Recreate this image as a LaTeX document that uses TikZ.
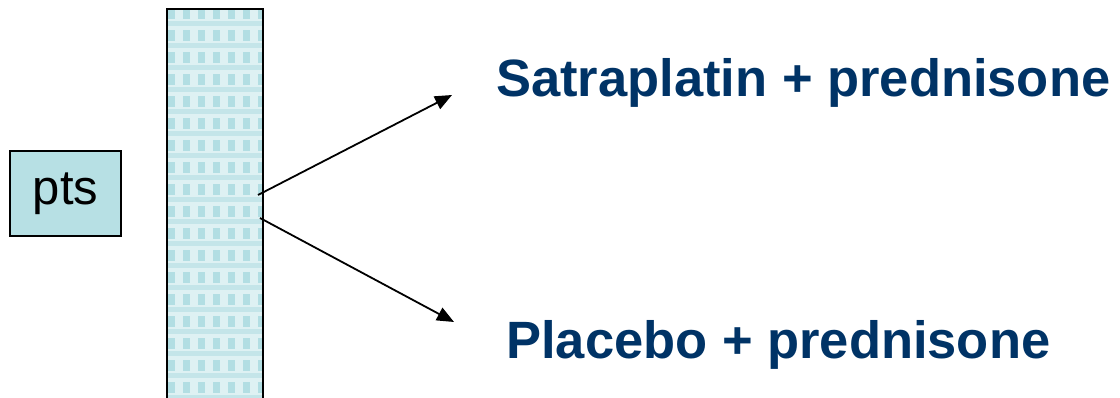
\documentclass[tikz,border=0pt]{standalone}
\usepackage{fontspec}
\setmainfont{Liberation Sans}
\usetikzlibrary{arrows.meta}
\definecolor{txtblue}{RGB}{0,51,102}
\definecolor{boxblue}{RGB}{183,224,228}
\definecolor{barlight}{RGB}{222,241,243}
\definecolor{bardark}{RGB}{178,222,227}
\tikzset{
  arm/.style={line width=1.8pt,-{Triangle[length=17pt,width=14pt]}},
  armlabel/.style={anchor=base west,text=txtblue,font=\bfseries\fontsize{52.5}{60}\selectfont,inner sep=0pt},
}
\begin{document}
\begin{tikzpicture}[x=1pt,y=1pt]
\useasboundingbox (0,0) rectangle (1120,398);
% bar pattern
\begin{scope}
  \clip (166,-10) rectangle (262,390);
  \fill[barlight] (166,-10) rectangle (262,390);
  \foreach \i in {0,...,6} {
    \foreach \j in {0,...,19} {
      \fill[bardark] (168+\i*15,390-\j*22) rectangle ++(7,-11);
      \fill[bardark!60!barlight] (166+\i*15,377-\j*22) rectangle ++(15,-5);
    }
  }
\end{scope}
\node (bar) [draw,line width=2.4pt,minimum width=96pt,minimum height=400pt,inner sep=0pt,anchor=north west] at (166,390) {};
% pts box
\node (pts) [draw,fill=boxblue,line width=1.3pt,minimum width=111pt,minimum height=85pt,inner sep=0pt,
  font=\fontsize{49}{50}\selectfont] at (65.5,204.5) {pts};
% arrows
\coordinate (a1s) at (258,203);
\coordinate (a1e) at (452,303);
\coordinate (a2s) at (260,180);
\coordinate (a2e) at (454,76);
\draw[arm] (a1s) -- (a1e);
\draw[arm] (a2s) -- (a2e);
% labels
\node (sat) [armlabel] at (496,301) {Satraplatin + prednisone};
\node (pla) [armlabel] at (506,39) {Placebo + prednisone};
\end{tikzpicture}
\end{document}
